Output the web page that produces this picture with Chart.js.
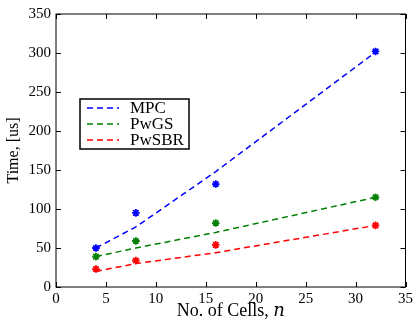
<!DOCTYPE html>
<html>
<head>
<meta charset="utf-8">
<script src="https://cdn.jsdelivr.net/npm/chart.js@4"></script>
<style>
  html, body { margin: 0; padding: 0; background: #fff; }
  #wrap { width: 416px; height: 324px; }
</style>
</head>
<body>
<div id="wrap"><canvas id="timeChart" width="416" height="324"></canvas></div>
<script>
const cells = [4, 8, 16, 32];
const mpcTime = [50, 95, 132, 302];
const pwgsTime = [39, 59, 82, 115];
const pwsbrTime = [23, 34, 54, 79];
const mpcFit = [50, 77, 148, 301];
const pwgsFit = [39, 50, 70, 115];
const pwsbrFit = [20, 30, 44, 79];
const seriesNames = ['MPC', 'PwGS', 'PwSBR'];
const seriesColors = ['#0000ff', '#008000', '#ff0000'];

const FONT = '"Liberation Serif", "DejaVu Serif", serif';
const pts = ys => cells.map((x, i) => ({ x, y: ys[i] }));

const measured = [mpcTime, pwgsTime, pwsbrTime];
const fitted = [mpcFit, pwgsFit, pwsbrFit];

const datasets = [];
seriesNames.forEach((name, i) => {
  datasets.push({
    label: name,
    data: pts(fitted[i]),
    showLine: true,
    borderColor: seriesColors[i],
    borderWidth: 1.5,
    borderDash: [6, 4],
    pointRadius: 0,
    fill: false,
  });
  datasets.push({
    label: name + ' data',
    data: pts(measured[i]),
    showLine: false,
    pointStyle: 'star',
    pointRadius: 3.8,
    borderWidth: 1.8,
    borderColor: seriesColors[i],
    backgroundColor: seriesColors[i],
  });
});

// matplotlib-style frame, inward ticks and boxed legend
const framePlugin = {
  id: 'frame',
  afterDraw(chart) {
    const { ctx, chartArea: a, scales } = chart;
    ctx.save();
    ctx.strokeStyle = '#000';
    ctx.lineWidth = 1;
    ctx.strokeRect(a.left, a.top, a.right - a.left, a.bottom - a.top);
    const tl = 5;
    scales.x.ticks.forEach(t => {
      const px = Math.round(scales.x.getPixelForValue(t.value)) + 0.5;
      ctx.beginPath();
      ctx.moveTo(px, a.bottom); ctx.lineTo(px, a.bottom - tl);
      ctx.moveTo(px, a.top); ctx.lineTo(px, a.top + tl);
      ctx.stroke();
    });
    scales.y.ticks.forEach(t => {
      const py = Math.round(scales.y.getPixelForValue(t.value)) + 0.5;
      ctx.beginPath();
      ctx.moveTo(a.left, py); ctx.lineTo(a.left + tl, py);
      ctx.moveTo(a.right, py); ctx.lineTo(a.right - tl, py);
      ctx.stroke();
    });

    // legend
    const lx = a.left + 24, ly = a.top + 85, lw = 109, lh = 50;
    ctx.fillStyle = '#fff';
    ctx.fillRect(lx, ly, lw, lh);
    ctx.lineWidth = 1.5;
    ctx.strokeRect(lx, ly, lw, lh);
    ctx.font = '17px ' + FONT;
    ctx.textBaseline = 'middle';
    seriesNames.forEach((name, i) => {
      const ry = ly + 9 + i * 16;
      ctx.strokeStyle = seriesColors[i];
      ctx.lineWidth = 1.5;
      ctx.setLineDash([6, 4]);
      ctx.beginPath();
      ctx.moveTo(lx + 7, ry); ctx.lineTo(lx + 39, ry);
      ctx.stroke();
      ctx.setLineDash([]);
      ctx.fillStyle = '#000';
      ctx.fillText(name, lx + 50, ry + 1);
    });
    ctx.restore();
  }
};

new Chart(document.getElementById('timeChart').getContext('2d'), {
  type: 'scatter',
  data: { datasets },
  options: {
    responsive: false,
    animation: false,
    layout: { padding: { top: 8, right: 8, left: 0, bottom: 0 } },
    scales: {
      x: {
        type: 'linear',
        min: 0, max: 35,
        ticks: { stepSize: 5, color: '#000', padding: 3, maxRotation: 0, font: { family: FONT, size: 15 } },
        grid: { display: false, drawTicks: false },
        border: { display: false },
        title: { display: true, text: 'No. of Cells, 𝑛', color: '#000', padding: { top: 1, bottom: 2 }, font: { family: FONT, size: 18 } },
        afterFit(s) { s.height = 37; }
      },
      y: {
        min: 0, max: 350,
        ticks: { stepSize: 50, color: '#000', padding: 5, font: { family: FONT, size: 15 } },
        grid: { display: false, drawTicks: false },
        border: { display: false },
        title: { display: true, text: 'Time, [us]', color: '#000', padding: { top: 4, bottom: 0 }, font: { family: FONT, size: 16 } },
        afterFit(s) { s.width = 56; }
      }
    },
    plugins: {
      legend: { display: false },
      tooltip: { enabled: false }
    }
  },
  plugins: [framePlugin]
});
</script>
</body>
</html>
